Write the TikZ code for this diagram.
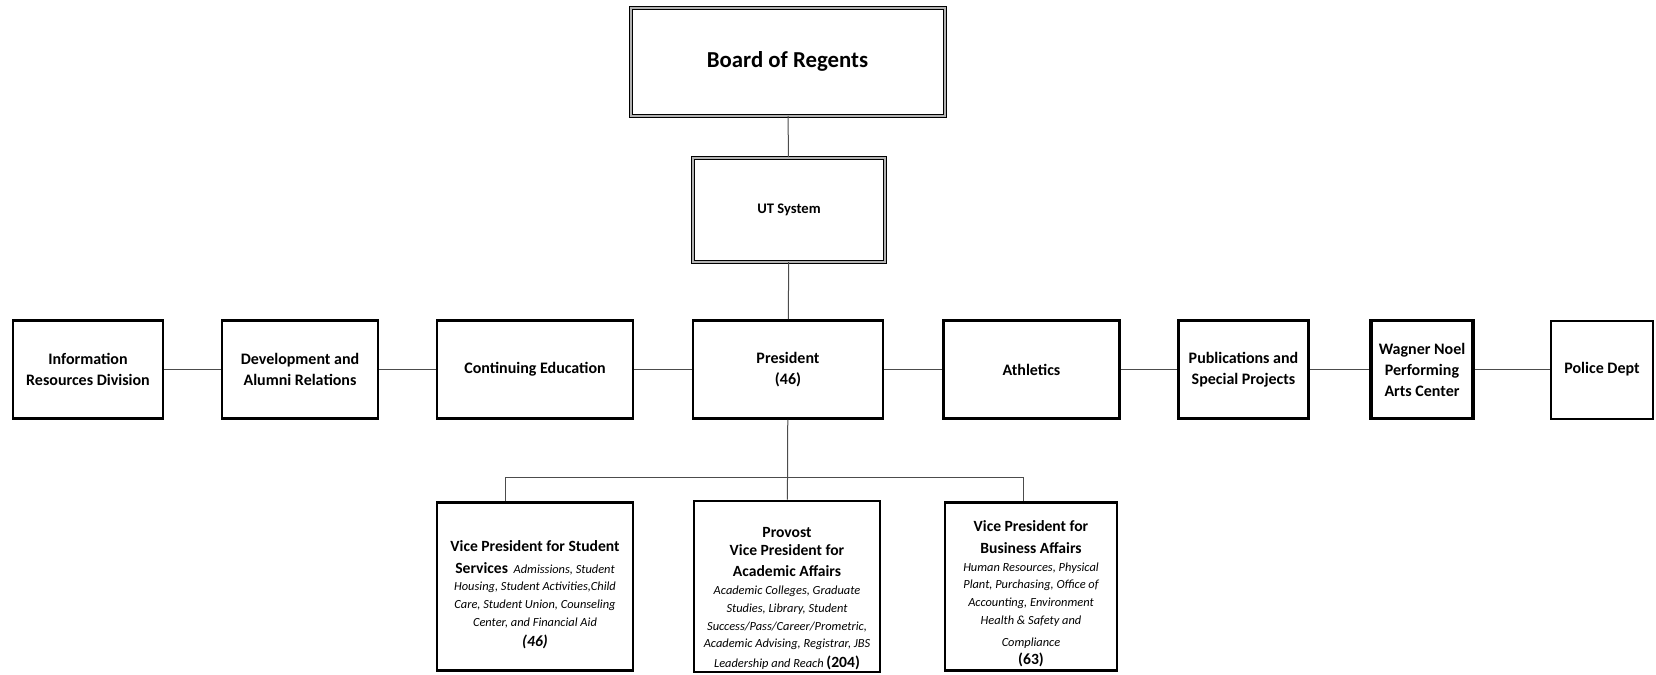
\documentclass[tikz,border=0pt]{standalone}
\usepackage{fontspec}
\setmainfont{Carlito}
\usepackage{tikz}
\usetikzlibrary{positioning}

\tikzset{
  unitbox/.style={draw, line width=1.4pt, align=center, inner sep=1pt,
    font=\bfseries\fontsize{8}{10.5}\selectfont},
  boardbox/.style={draw, line width=0.5pt, double=black!30, double distance=1pt,
    align=center, inner sep=2pt},
  vpbox/.style={unitbox, font=\fontsize{6.2}{8.9}\selectfont},
  link/.style={draw=black!70, line width=0.5pt}
}
\newcommand{\vpt}[1]{{\bfseries\fontsize{7.8}{8.9}\selectfont #1}}
\newcommand{\vpi}[1]{{\itshape\fontsize{6.2}{8.9}\selectfont #1}}

\begin{document}
\begin{tikzpicture}[x=0.5pt, y=-0.5pt]
    \useasboundingbox (0,0) rectangle (1656,675);
    \node[boardbox, minimum width=157pt, minimum height=54pt,
      font=\bfseries\fontsize{11.4}{13}\selectfont] (board) at (787.5,61.5) {Board of Regents};
    \node[boardbox, minimum width=96pt, minimum height=52pt,
      font=\bfseries\fontsize{7.3}{9}\selectfont] (ut) at (789,209.5) {UT System};

    \node[unitbox, minimum width=75pt, minimum height=49pt] (ird)  at (88,369.5)   {Information\\Resources Division};
    \node[unitbox, minimum width=78pt, minimum height=49pt] (dev)  at (300,369.5)  {Development and\\Alumni Relations};
    \node[unitbox, minimum width=98pt, minimum height=49pt] (cont) at (535,369.5)  {Continuing Education};
    \node[unitbox, minimum width=95pt, minimum height=49pt] (pres) at (788,369.5)  {President\\(46)};
    \node[unitbox, minimum width=88pt, minimum height=49pt] (ath)  at (1031.5,369.5) {Athletics};
    \node[unitbox, minimum width=65pt, minimum height=49pt] (pub)  at (1243.5,369.5) {Publications and\\Special Projects};
    \node[unitbox, minimum width=51pt, minimum height=49pt, line width=1.8pt] (wag) at (1422,369.5) {Wagner Noel\\Performing\\Arts Center};
    \node[unitbox, minimum width=51pt, minimum height=49pt, line width=1pt] (pol) at (1602,369.5) {Police Dept};

    \node[vpbox, minimum width=98pt, minimum height=84pt] (vpss) at (535,586.5) {%
      \vpt{\rule{0pt}{13.4pt}Vice President for Student}\\[2pt]
      \vpt{Services}\ \ \vpi{Admissions, Student}\\
      \vpi{Housing, Student Activities,Child}\\
      \vpi{Care, Student Union, Counseling}\\
      \vpi{Center, and Financial Aid}\\[1pt]
      {\itshape\bfseries\fontsize{7.8}{8.9}\selectfont(46)}};
    \node[vpbox, minimum width=93pt, minimum height=84pt] (prov) at (787,586.5) {%
      \vpt{\rule{0pt}{17pt}Provost}\\[0.5pt]
      \vpt{Vice President for}\\[1.5pt]
      \vpt{Academic Affairs}\\
      \vpi{Academic Colleges, Graduate}\\
      \vpi{Studies, Library, Student}\\
      \vpi{Success/Pass/Career/Prometric,}\\
      \vpi{Academic Advising, Registrar, JBS}\\[1pt]
      \vpi{Leadership and Reach}\ \vpt{(204)}};
    \node[vpbox, minimum width=86pt, minimum height=84pt] (vpba) at (1031,586.5) {%
      \vpt{\rule{0pt}{12.4pt}Vice President for}\\[2pt]
      \vpt{Business Affairs}\\
      \vpi{Human Resources, Physical}\\
      \vpi{Plant, Purchasing, Office of}\\
      \vpi{Accounting, Environment}\\
      \vpi{Health \& Safety and}\\[2pt]
      \vpi{Compliance}\\
      \vpt{(63)}};

    \coordinate (bl) at (505,477);
    \coordinate (br) at (1023,477);

    \path[link]
      (board) edge (ut)
      (ut)    edge (pres)
      (pres)  edge (prov)
              edge (cont)
              edge (ath)
      (cont)  edge (dev)
      (dev)   edge (ird)
      (ath)   edge (pub)
      (pub)   edge (wag)
      (wag)   edge (pol);
    \draw[link] (vpss.north -| bl) -- (bl) -- (br) -- (vpba.north -| br);
\end{tikzpicture}
\end{document}
